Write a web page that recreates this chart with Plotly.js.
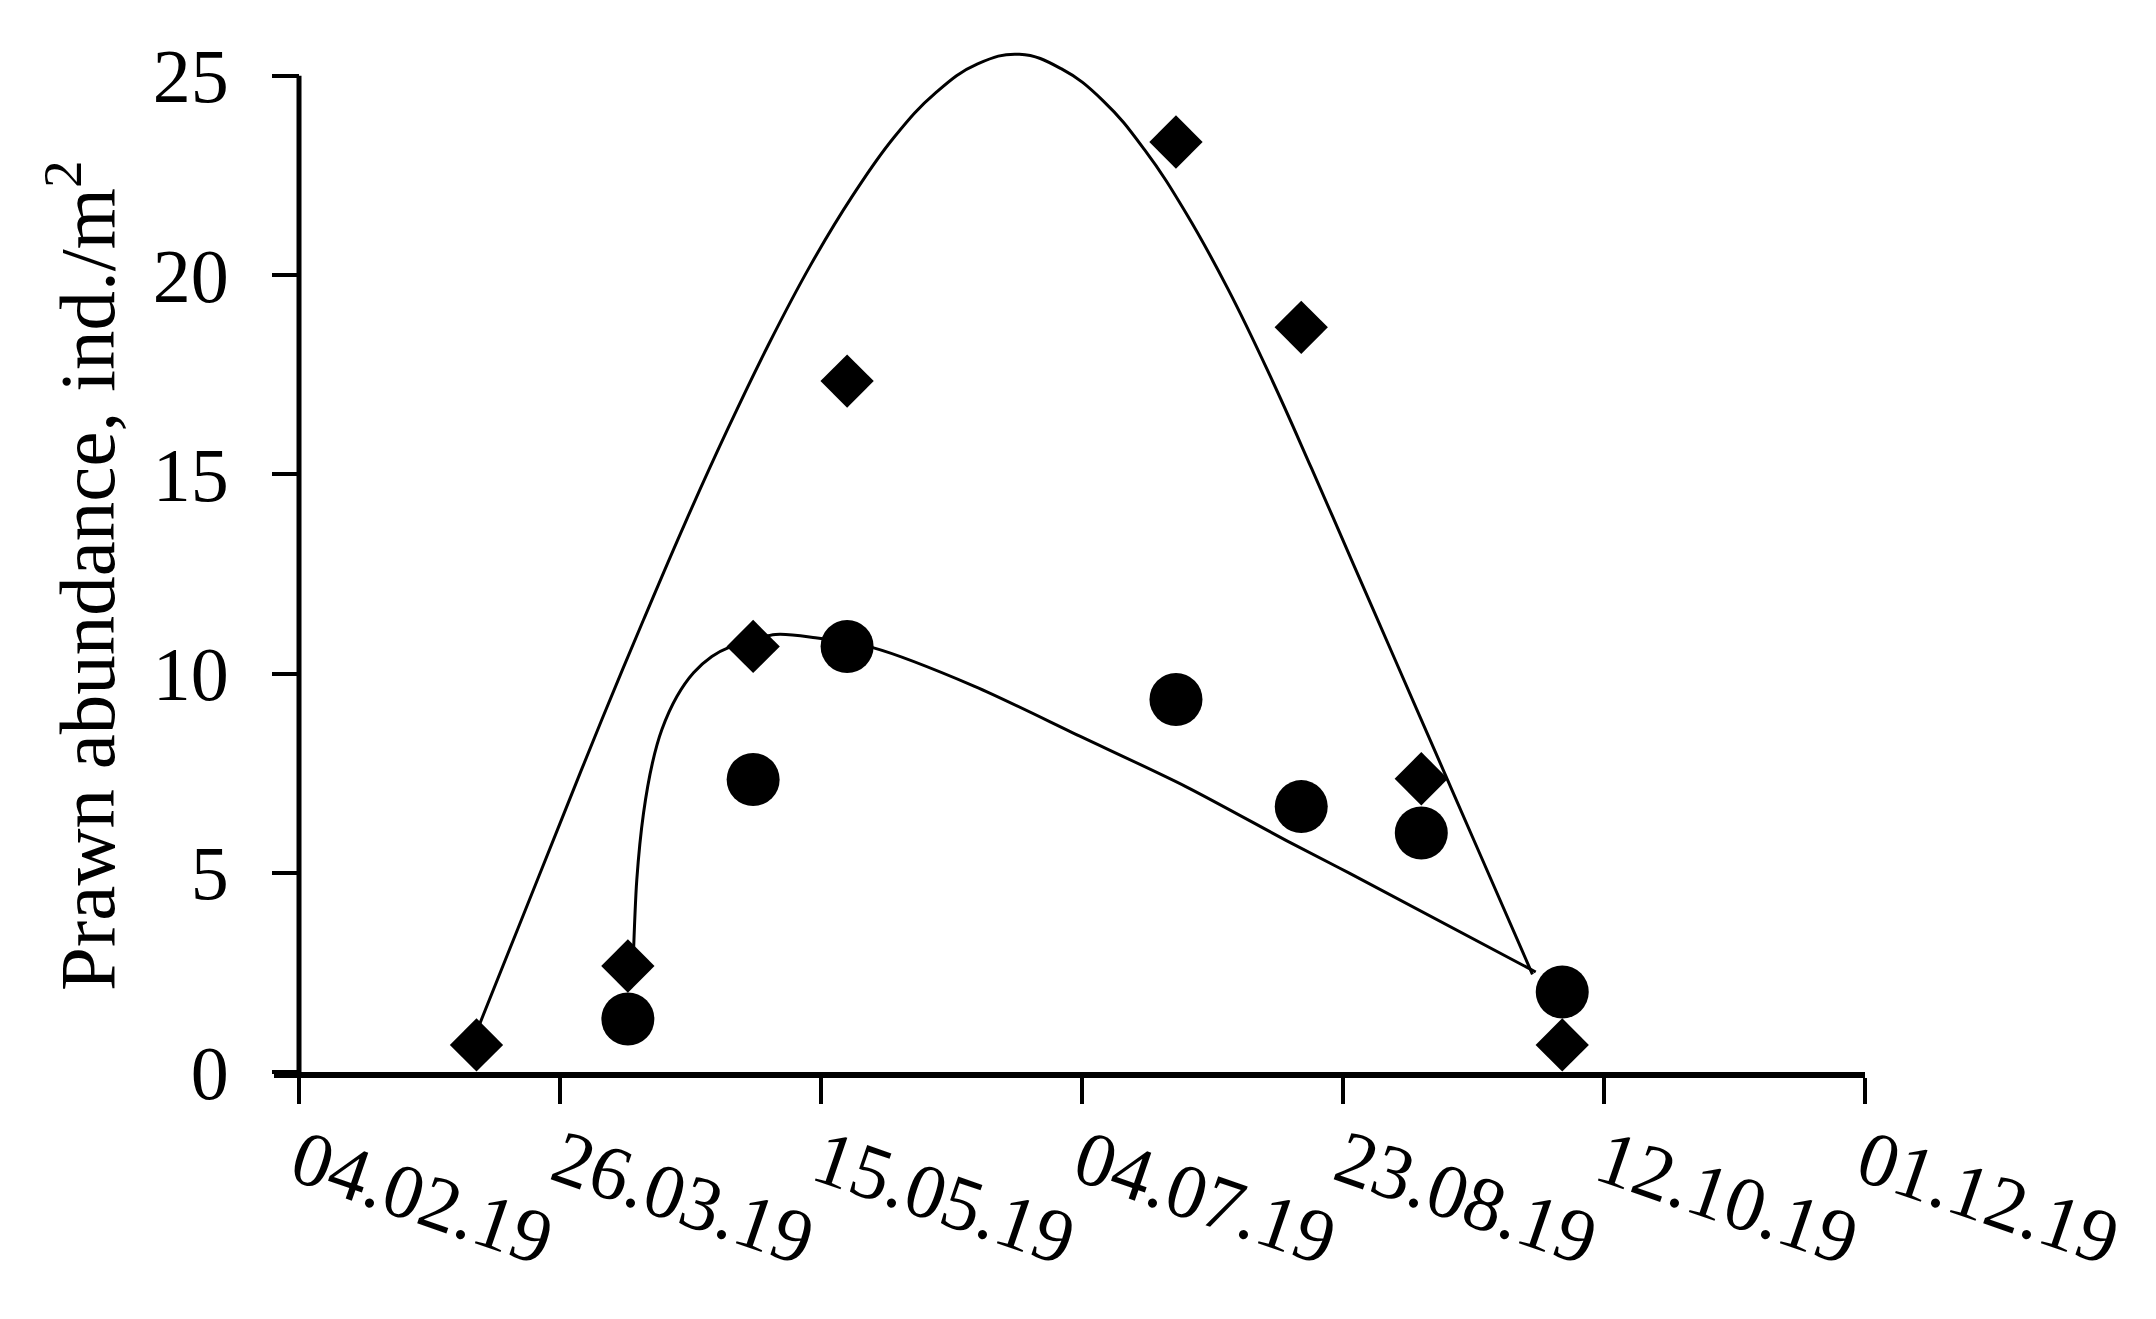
<!DOCTYPE html>
<html>
<head>
<meta charset="utf-8">
<script src="https://cdn.plot.ly/plotly-3.0.1.min.js"></script>
<style>html,body{margin:0;padding:0;background:#fff;}#chart{width:2156px;height:1319px;}</style>
</head>
<body>
<div id="chart"></div>
<script>
// Sampling dates and observed abundances
const sampleDates = ["2019-03-10","2019-04-08","2019-05-02","2019-05-20","2019-07-22","2019-08-15","2019-09-07","2019-10-04"];
const diamondValues = [0.68, 2.66, 10.68, 17.34, 23.34, 18.69, 7.36, 0.68];
const circleDates = ["2019-04-08","2019-05-02","2019-05-20","2019-07-22","2019-08-15","2019-09-07","2019-10-04"];
const circleValues = [1.33, 7.34, 10.68, 9.35, 6.66, 6.0, 2.01];

// Trend curve (upper, diamonds)
const upperCurveDates = ["2019-03-09 14:00","2019-03-18","2019-03-26","2019-04-03","2019-04-11","2019-04-19","2019-04-27","2019-05-05","2019-05-13","2019-05-21","2019-05-29","2019-06-06","2019-06-14","2019-06-22","2019-06-30","2019-07-08","2019-07-16","2019-07-24","2019-08-01","2019-08-09","2019-08-17","2019-08-25","2019-09-02","2019-09-10","2019-09-18","2019-09-28 07:00"];
const upperCurveValues = [0.87, 3.62, 6.24, 8.84, 11.35, 13.79, 16.1, 18.27, 20.25, 21.98, 23.46, 24.58, 25.3, 25.54, 25.18, 24.38, 23.14, 21.54, 19.64, 17.48, 15.14, 12.74, 10.34, 7.94, 5.54, 2.45];

// Trend curve (lower, circles)
const lowerCurveDates = ["2019-04-09 00:00","2019-04-09 17:00","2019-04-11 00:00","2019-04-12 17:00","2019-04-14 12:00","2019-04-17 10:00","2019-04-20 14:00","2019-04-24 02:00","2019-04-27 07:00","2019-05-06 07:00","2019-05-13 22:00","2019-05-24 22:00","2019-06-13 10:00","2019-07-03 14:00","2019-07-23 19:00","2019-08-13 00:00","2019-08-24 05:00","2019-09-28 22:00"];
const lowerCurveValues = [2.7, 4.82, 6.5, 7.76, 8.59, 9.43, 10.02, 10.43, 10.65, 10.98, 10.9, 10.65, 9.68, 8.43, 7.17, 5.75, 4.99, 2.51];

// Axis settings
const xTick0 = "2019-02-04";
const xRange = ["2019-01-30 05:00", "2019-12-01"];
const yTitle = "Prawn abundance, ind./m<sup>2</sup>";

const FONT = "Liberation Serif, Times New Roman, serif";

const ms = s => new Date(s.replace(" ", "T") + "Z").getTime();
const yPos = (ms(xTick0) - ms(xRange[0])) / (ms(xRange[1]) - ms(xRange[0]));

const traces = [
  {x: upperCurveDates, y: upperCurveValues, type: "scatter", mode: "lines",
   line: {color: "#000", width: 3, shape: "spline", smoothing: 1.2}, hoverinfo: "skip"},
  {x: lowerCurveDates, y: lowerCurveValues, type: "scatter", mode: "lines",
   line: {color: "#000", width: 3, shape: "spline", smoothing: 0.8}, hoverinfo: "skip"},
  {x: sampleDates, y: diamondValues, type: "scatter", mode: "markers",
   marker: {symbol: "diamond", size: 41, color: "#000"}, cliponaxis: false},
  {x: circleDates, y: circleValues, type: "scatter", mode: "markers",
   marker: {symbol: "circle", size: 53, color: "#000"}, cliponaxis: false}
];

const layout = {
  width: 2156, height: 1319,
  margin: {l: 274, r: 291, t: 36, b: 247, pad: 0},
  paper_bgcolor: "#fff", plot_bgcolor: "#fff",
  showlegend: false,
  font: {family: FONT, color: "#000", size: 76},
  xaxis: {
    type: "date", range: xRange, tick0: xTick0, dtick: 50 * 86400000,
    tickformat: "%d.%m.%y", tickangle: 19,
    ticks: "outside", ticklen: 26, tickwidth: 4, tickcolor: "#000",
    showline: true, linewidth: 6, linecolor: "#000",
    showgrid: false, zeroline: false,
    tickfont: {family: FONT, size: 77, color: "#000"},
    ticklabelstandoff: -16
  },
  yaxis: {
    range: [0, 26], tick0: 0, dtick: 5,
    anchor: "free", position: yPos,
    ticks: "outside", ticklen: 27, tickwidth: 4, tickcolor: "#000",
    showline: false, showgrid: false, zeroline: false,
    tickfont: {family: FONT, size: 76, color: "#000"},
    ticklabelstandoff: 28
  },
  shapes: [
    {type: "line", xref: "x", yref: "y", x0: xTick0, x1: xTick0, y0: 0, y1: 25,
     line: {color: "#000", width: 5}, layer: "above"}
  ],
  annotations: [
    {text: yTitle, textangle: -90, xref: "paper", yref: "y",
     x: (82 - 274) / 1591, y: 12.45, xanchor: "center", yanchor: "middle",
     showarrow: false, font: {family: FONT, size: 79, color: "#000"}}
  ]
};

Plotly.newPlot("chart", traces, layout, {displayModeBar: false, staticPlot: true});
</script>
</body>
</html>
